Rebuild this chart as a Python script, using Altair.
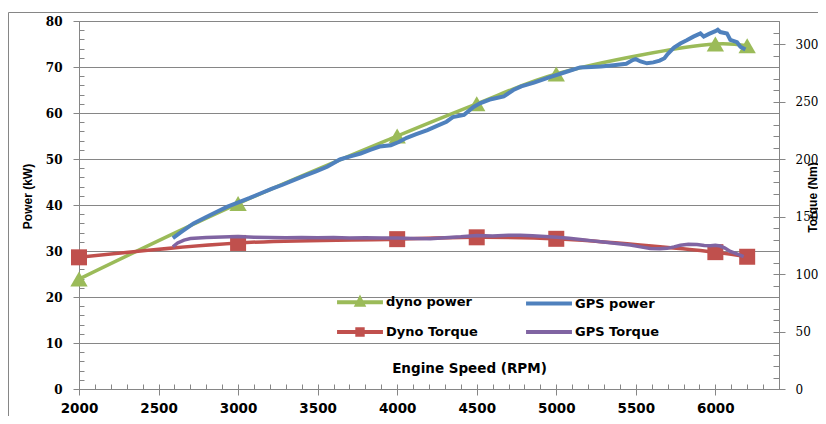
import altair as alt
import pandas as pd

# ---------------- data ----------------
series_names = ["dyno power", "GPS power", "Dyno Torque", "GPS Torque"]
series_colors = ["#9BBB59", "#4F81BD", "#C0504D", "#8064A2"]

rpm_dyno = [2000, 3000, 4000, 4500, 5000, 6000, 6200]
dyno_power = [23.9, 40.3, 55.0, 62.0, 68.5, 75.0, 74.6]
dyno_torque = [114.5, 127.0, 130.3, 131.9, 130.6, 119.0, 115.0]

gps_power_rpm = [2590, 2650, 2720, 2800, 2870, 2930, 3010, 3070, 3140, 3210,
                 3280, 3350, 3420, 3490, 3560, 3640, 3700, 3770, 3830, 3890,
                 3960, 4010, 4060, 4120, 4190, 4250, 4310, 4350, 4420, 4480,
                 4520, 4590, 4670, 4730, 4780, 4860, 4960, 5050, 5150, 5220,
                 5280, 5360, 5440, 5480, 5500, 5530, 5570, 5610, 5650, 5680,
                 5700, 5740, 5780, 5820, 5862, 5906, 5927, 5960, 6000, 6015,
                 6031, 6073, 6094, 6136, 6157, 6189]
gps_power = [32.8, 34.3, 36.0, 37.4, 38.6, 39.6, 40.7, 41.5, 42.5, 43.5,
             44.4, 45.4, 46.4, 47.3, 48.3, 49.9, 50.5, 51.2, 52.0, 52.7,
             53.0, 53.7, 54.6, 55.4, 56.3, 57.2, 58.1, 59.1, 59.6, 61.3,
             62.1, 63.0, 63.6, 65.0, 65.8, 66.6, 67.8, 68.8, 69.9, 70.0,
             70.1, 70.4, 70.7, 71.5, 71.7, 71.2, 70.8, 71.0, 71.4, 71.9,
             72.8, 74.2, 75.1, 75.8, 76.6, 77.3, 76.6, 77.2, 77.8, 78.1,
             77.6, 77.3, 75.9, 75.4, 74.4, 73.8]

gps_torque_rpm = [2590, 2620, 2660, 2700, 2800, 2900, 3000, 3100, 3200, 3300,
                  3400, 3500, 3600, 3700, 3800, 3900, 4000, 4100, 4208, 4300,
                  4400, 4500, 4600, 4700, 4774, 4850, 4930, 5005, 5080, 5151,
                  5230, 5296, 5380, 5465, 5530, 5591, 5650, 5696, 5740, 5780,
                  5830, 5885, 5930, 5969, 6000, 6031, 6060, 6094, 6140, 6178]
gps_torque = [123.7, 127.0, 129.5, 130.8, 131.8, 132.2, 132.5, 132.0, 131.8, 131.5,
              131.7, 131.5, 131.8, 131.4, 131.6, 131.3, 131.2, 130.8, 130.6, 131.5,
              132.3, 133.5, 133.0, 133.6, 133.8, 133.2, 132.6, 131.9, 131.0, 130.0,
              128.8, 127.8, 126.6, 125.2, 123.6, 122.2, 121.9, 122.3, 123.6, 125.0,
              125.8, 125.6, 124.8, 124.6, 125.0, 124.3, 122.5, 119.6, 117.2, 115.2]

x_ticks = list(range(2000, 6001, 500))
x_minor = list(range(2000, 6401, 100))
power_ticks = list(range(0, 81, 10))
power_minor = list(range(0, 81, 2))
torque_ticks = list(range(0, 301, 50))
torque_minor = list(range(0, 321, 10))

# ---------------- tables ----------------
df_dyno_p = pd.DataFrame({"rpm": rpm_dyno, "val": dyno_power, "series": series_names[0]})
df_gps_p = pd.DataFrame({"rpm": gps_power_rpm, "val": gps_power, "series": series_names[1]})
df_dyno_t = pd.DataFrame({"rpm": rpm_dyno, "val": dyno_torque, "series": series_names[2]})
df_gps_t = pd.DataFrame({"rpm": gps_torque_rpm, "val": gps_torque, "series": series_names[3]})

GRID = "#868686"
W, H = 700, 368

x_scale = alt.Scale(domain=[2000, 6400], nice=False, zero=False)
p_scale = alt.Scale(domain=[0, 80], nice=False)
t_scale = alt.Scale(domain=[0, 320], nice=False)

x_main_axis = alt.Axis(
    values=x_ticks, format="d", title="Engine Speed (RPM)", grid=False,
    labelFont="DejaVu Sans", labelFontWeight="bold", labelFontSize=13.5, labelColor="black",
    labelPadding=6, tickSize=6, tickColor=GRID, domainColor=GRID,
    titleFont="DejaVu Sans", titleFontWeight="bold", titleFontSize=13.5, titleColor="black",
    titleX=390, titleY=-21, titleAlign="center", titleBaseline="middle", labelFlush=False,
)
p_main_axis = alt.Axis(
    values=power_ticks, title="Power (kW)", grid=True, gridColor=GRID, gridWidth=1,
    labelFont="DejaVu Serif", labelFontWeight="bold", labelFontSize=12, labelColor="black",
    labelPadding=11, tickSize=6, tickColor=GRID, domainColor=GRID, orient="left",
    titleFont="Liberation Sans", titleFontWeight="bold", titleFontSize=12, titleColor="black",
    titleAngle=270, titleX=-57, titleY=175, titleAlign="center", titleBaseline="top",
)
t_main_axis = alt.Axis(
    values=torque_ticks, title="Torque (Nm)", grid=False, orient="right",
    labelFont="DejaVu Serif", labelFontSize=12, labelColor="black",
    labelPadding=10, tickSize=6, tickColor=GRID, domainColor=GRID,
    titleFont="Liberation Sans", titleFontWeight="bold", titleFontSize=12, titleColor="black",
    titleAngle=270, titleX=28, titleY=176, titleAlign="center", titleBaseline="top",
)

sym_shape = ("datum.value === 'dyno power' ? 'M-1.53,0H1.53M-0.2,0.18L0,-0.21L0.2,0.18Z' : "
             "datum.value === 'Dyno Torque' ? 'M-1.53,0H1.53M-0.18,-0.18H0.18V0.18H-0.18Z' : 'M-1.53,0H1.53'")
legend = alt.Legend(
    orient="none", legendX=264, legendY=264, columns=2, direction="horizontal",
    title=None, values=series_names,
    labelFont="DejaVu Sans", labelFontWeight="bold", labelFontSize=13, labelColor="black",
    symbolSize=900, symbolStrokeWidth=4, labelOffset=9, columnPadding=40, rowPadding=2,
    symbolType=alt.ExprRef(expr=sym_shape),
    symbolFillColor=alt.ExprRef(expr="scale('color', datum.value)"),
    symbolStrokeColor=alt.ExprRef(expr="scale('color', datum.value)"),
    symbolOpacity=1,
)
color = alt.Color("series:N", scale=alt.Scale(domain=series_names, range=series_colors), legend=legend)

xm = alt.X("rpm:Q", scale=x_scale, axis=x_main_axis)
xn = alt.X("rpm:Q", scale=x_scale, axis=None)
yp = alt.Y("val:Q", scale=p_scale, axis=p_main_axis)
yt = alt.Y("val:Q", scale=t_scale, axis=t_main_axis)

# power layer (left axis)
dyno_p_line = alt.Chart(df_dyno_p).mark_line(strokeWidth=3.5, interpolate="catmull-rom").encode(x=xm, y=yp, color=color)
dyno_p_pts = alt.Chart(df_dyno_p).mark_point(shape="triangle-up", filled=True, size=300, opacity=1).encode(x=xm, y=yp, color=color)
gps_p_line = alt.Chart(df_gps_p).mark_line(strokeWidth=4).encode(x=xm, y=yp, color=color)
power_layer = alt.layer(dyno_p_line, dyno_p_pts, gps_p_line)

# torque layer (right axis)
dyno_t_line = alt.Chart(df_dyno_t).mark_line(strokeWidth=3.5, interpolate="catmull-rom").encode(x=xn, y=yt, color=color)
dyno_t_pts = alt.Chart(df_dyno_t).mark_point(shape="square", filled=True, size=256, opacity=1).encode(x=xn, y=yt, color=color)
gps_t_line = alt.Chart(df_gps_t).mark_line(strokeWidth=3.5).encode(x=xn, y=yt, color=color)
torque_layer = alt.layer(dyno_t_line, dyno_t_pts, gps_t_line)

# minor (inside) ticks
minor_left = alt.Chart(df_dyno_p).mark_point(opacity=0).encode(
    x=alt.X("rpm:Q", scale=x_scale, axis=alt.Axis(
        values=x_minor, orient="bottom", offset=-5, tickSize=5, labels=False, domain=False,
        grid=False, title=None, tickColor=GRID)),
    y=alt.Y("val:Q", scale=p_scale, axis=alt.Axis(
        values=power_minor, orient="left", offset=-5, tickSize=5, labels=False, domain=False,
        grid=False, title=None, tickColor=GRID)),
)
minor_right = alt.Chart(df_dyno_t).mark_point(opacity=0).encode(
    x=xn,
    y=alt.Y("val:Q", scale=t_scale, axis=alt.Axis(
        values=torque_minor, orient="right", offset=-6, tickSize=6, labels=False, domain=False,
        grid=False, title=None, tickColor=GRID)),
)

frame = alt.Chart(pd.DataFrame({"a": [0]})).mark_rect(
    fillOpacity=0, stroke=GRID, strokeWidth=1
).encode(x=alt.value(-70.5), x2=alt.value(820), y=alt.value(-8.5), y2=alt.value(420))

chart = alt.layer(frame, power_layer, torque_layer, minor_left, minor_right).resolve_scale(
    x="independent", y="independent"
).properties(
    width=W, height=H,
    autosize=alt.AutoSizeParams(type="none"),
    padding={"left": 71, "top": 13, "right": 39, "bottom": 27},
).configure_view(stroke=GRID, strokeWidth=1).configure(background="white")

chart.save("out.html", embed_options={"renderer": "svg", "actions": False})
